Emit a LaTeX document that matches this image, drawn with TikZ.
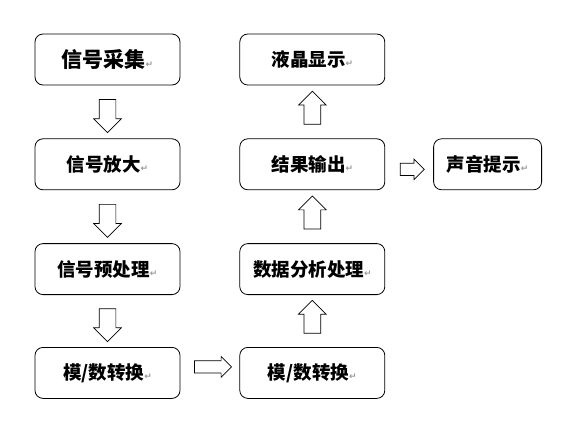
\documentclass[tikz,border=0pt]{standalone}
\usepackage{fontspec}
\newfontfamily\cjk{Noto Sans CJK SC}
\newfontfamily\symfont{DejaVu Sans}
\usetikzlibrary{positioning,calc,shapes.arrows}
\newcommand{\retmark}{{\symfont\color{gray!80}\fontsize{9}{9}\selectfont ↵}}
\tikzset{
  box/.style={draw,rectangle,rounded corners=8pt,minimum width=145pt,minimum height=51pt,line width=0.8pt,align=center,
    font=\cjk\bfseries\fontsize{18.5}{20}\selectfont},
  bigbox/.style={box,font=\cjk\bfseries\fontsize{21}{22}\selectfont},
  blkarr/.style={draw,line width=0.7pt,fill=white,single arrow,single arrow tip angle=90,inner xsep=0pt},
  varr/.style={blkarr,minimum height=33pt,inner ysep=8pt,single arrow head extend=5.5pt},
  harr/.style={blkarr,inner ysep=5.8pt,single arrow head extend=4.2pt}
}
\begin{document}
\begin{tikzpicture}[x=1pt,y=-1pt,node distance=53pt and 59pt]
  \useasboundingbox (0,0) rectangle (571,426);
  % left column
  \node[bigbox] (caiji) at (107.5,59.5) {信号采集\retmark};
  \node[box, below=of caiji] (fangda) {信号放大\retmark};
  \node[box, below=of fangda] (yuchuli) {信号预处理\retmark};
  \node[box, below=52pt of yuchuli] (adleft) {模/数转换\retmark};

  % right column
  \node[box, right=of adleft] (adright) {模/数转换\retmark};
  \node[box, above=52pt of adright] (fenxi) {数据分析处理\retmark};
  \node[box, above=of fenxi] (shuchu) {结果输出\retmark};
  \node[box, above=of shuchu] (xianshi) {液晶显示\retmark};
  \node[box, minimum width=108pt, right=48pt of shuchu] (shengyin) {声音提示\retmark};

  % block arrows down
  \foreach \a/\b in {caiji/fangda,fangda/yuchuli,yuchuli/adleft}
    \node[varr, rotate=-90] (d-\a) at ($(\a.south)!0.5!(\b.north)$) {};

  % block arrows up
  \foreach \a/\b in {adright/fenxi,fenxi/shuchu,shuchu/xianshi}
    \node[varr, rotate=90] (u-\a) at ($(\a.north)!0.5!(\b.south)$) {};

  % block arrows right
  \node[harr, minimum height=37pt] (r-ad) at ($(adleft.east)!0.5!(adright.west)+(0,-6)$) {};
  \node[harr, minimum height=24pt] (r-out) at ($(shuchu.east)!0.5!(shengyin.west)+(0,5)$) {};
\end{tikzpicture}
\end{document}
